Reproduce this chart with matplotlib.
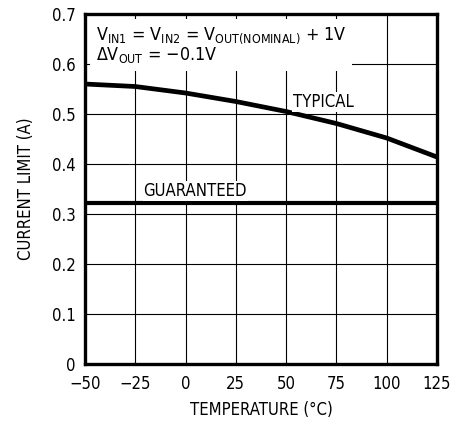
import matplotlib
matplotlib.use("Agg")
import matplotlib.pyplot as plt

# Current limit vs temperature
temps = [-50, -25, 0, 25, 50, 75, 100, 125]
typical = [0.560, 0.555, 0.542, 0.525, 0.505, 0.481, 0.452, 0.414]
guaranteed_temps = [-50, 125]
guaranteed = [0.323, 0.323]

x_ticks = [-50, -25, 0, 25, 50, 75, 100, 125]
y_ticks = [0, 0.1, 0.2, 0.3, 0.4, 0.5, 0.6, 0.7]
y_tick_labels = ["0", "0.1", "0.2", "0.3", "0.4", "0.5", "0.6", "0.7"]

plt.rcParams["font.family"] = ["DejaVu Sans"]
plt.rcParams["font.stretch"] = "condensed"
plt.rcParams["mathtext.fontset"] = "custom"
plt.rcParams["mathtext.rm"] = "DejaVu Sans:stretch=condensed"
plt.rcParams["mathtext.default"] = "rm"

FS = 12

fig = plt.figure(figsize=(4.63, 4.21), dpi=100)
ax = fig.add_axes([0.1836, 0.1354, 0.7602, 0.8313])

# grid first, then the curves
ax.set_axisbelow(True)
ax.grid(True, color="black", linewidth=0.8)

ax.plot(temps, typical, color="black", linewidth=3.4, solid_capstyle="butt")
ax.plot(guaranteed_temps, guaranteed, color="black", linewidth=3.0, solid_capstyle="butt")

ax.set_xlim(-50, 125)
ax.set_ylim(0, 0.7)
ax.set_xticks(x_ticks)
ax.set_yticks(y_ticks)
ax.set_yticklabels(y_tick_labels)
ax.tick_params(length=0, labelsize=FS)
ax.tick_params(axis="x", pad=8)
ax.tick_params(axis="y", pad=7)

for s in ax.spines.values():
    s.set_linewidth(2.4)

ax.set_xlabel("TEMPERATURE (°C)", fontsize=FS, labelpad=6)
ax.set_ylabel("CURRENT LIMIT (A)", fontsize=FS, labelpad=12)

# conditions box
cond = ("V$_{IN1}$ = V$_{IN2}$ = V$_{OUT(NOMINAL)}$ + 1V\n"
        "$\\Delta$V$_{OUT}$ = $-$0.1V")
ax.text(0.03, 0.968, cond, transform=ax.transAxes, fontsize=12.8,
        va="top", ha="left", linespacing=0.95,
        bbox=dict(facecolor="white", edgecolor="none", pad=4))

ax.text(53.5, 0.514, "TYPICAL", fontsize=FS, ha="left", va="baseline",
        bbox=dict(facecolor="white", edgecolor="none", pad=1))
ax.text(-21, 0.336, "GUARANTEED", fontsize=FS, ha="left", va="baseline",
        bbox=dict(facecolor="white", edgecolor="none", pad=0.5))

fig.savefig("out.png", dpi=100)
